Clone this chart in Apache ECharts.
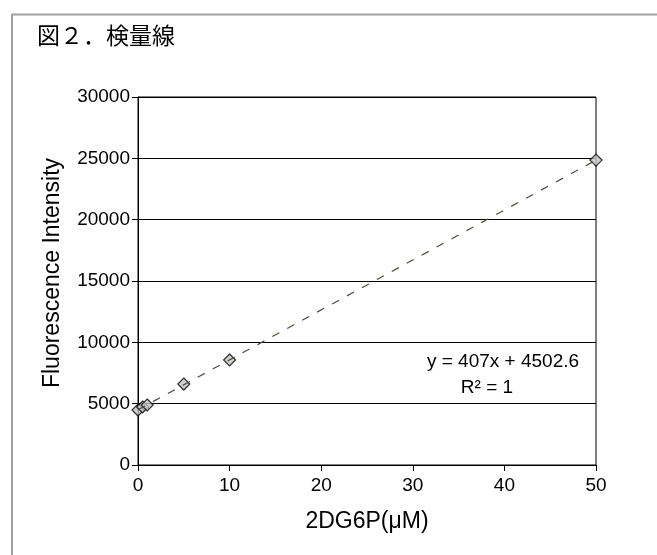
<!DOCTYPE html>
<html>
<head>
<meta charset="utf-8">
<script src="https://cdn.jsdelivr.net/npm/echarts@6/dist/echarts.min.js"></script>
<style>
html,body{margin:0;padding:0;background:#fff;}
#chart{width:657px;height:555px;}
</style>
</head>
<body>
<div id="chart"></div>
<script>
// Data
var concX = [0, 0.5, 1, 5, 10, 50];
var intensityY = [4480, 4730, 4890, 6600, 8560, 24860];
var trendX = [0, 50];
var trendY = [4502.6, 24852.6];
var xTicks = [0, 10, 20, 30, 40, 50];
var yTicks = [0, 5000, 10000, 15000, 20000, 25000, 30000];
var titleText = '図２．検量線';
var xName = '2DG6P(μM)';
var yName = 'Fluorescence Intensity';
var eqText = 'y = 407x + 4502.6';
var r2Text = 'R² = 1';

var pts = concX.map(function (x, i) { return [x, intensityY[i]]; });
var trend = trendX.map(function (x, i) { return [x, trendY[i]]; });

var chart = echarts.init(document.getElementById('chart'), null, {renderer: 'canvas'});
var font = '"Liberation Sans", Arial, sans-serif';
chart.setOption({
  animation: false,
  backgroundColor: '#fff',
  textStyle: {fontFamily: font},
  grid: {left: 138, right: 61, top: 97, bottom: 90, show: true, borderColor: '#000', borderWidth: 1},
  graphic: [
    {type: 'line', shape: {x1: 12, y1: 14.5, x2: 657, y2: 14.5}, style: {stroke: '#a0a0a0', lineWidth: 2}},
    {type: 'line', shape: {x1: 12, y1: 14, x2: 12, y2: 555}, style: {stroke: '#a0a0a0', lineWidth: 2}},
    {type: 'text', x: 37, y: 35, style: {text: titleText, font: '23px "Noto Sans CJK JP", sans-serif', fill: '#000', verticalAlign: 'middle'}},
    {type: 'text', x: 53, y: 273, rotation: Math.PI / 2,
     style: {text: yName, font: '23px ' + font, fill: '#000', align: 'center', verticalAlign: 'middle'}},
    {type: 'text', x: 503, y: 362, style: {text: eqText, font: '19px ' + font, fill: '#000', align: 'center', verticalAlign: 'middle'}},
    {type: 'text', x: 487, y: 388, style: {text: r2Text, font: '19px ' + font, fill: '#000', align: 'center', verticalAlign: 'middle'}}
  ],
  xAxis: {
    type: 'value', min: xTicks[0], max: xTicks[xTicks.length - 1], interval: xTicks[1] - xTicks[0],
    axisLine: {onZero: false, lineStyle: {color: '#000', width: 1}},
    axisTick: {show: true, inside: false, length: 6, lineStyle: {color: '#000'}},
    axisLabel: {color: '#000', fontSize: 19, fontFamily: font, margin: 11},
    splitLine: {show: false},
    name: xName, nameLocation: 'middle', nameGap: 45,
    nameTextStyle: {color: '#000', fontSize: 23, fontFamily: font}
  },
  yAxis: {
    type: 'value', min: yTicks[0], max: yTicks[yTicks.length - 1], interval: yTicks[1] - yTicks[0],
    axisLine: {show: true, lineStyle: {color: '#000', width: 1}},
    axisTick: {show: true, inside: false, length: 6, lineStyle: {color: '#000'}},
    axisLabel: {color: '#000', fontSize: 19, fontFamily: font, margin: 8, formatter: function (v) { return String(v); }},
    splitLine: {show: true, lineStyle: {color: '#000', width: 1}}
  },
  series: [
    {
      type: 'scatter', data: pts, symbol: 'diamond', symbolSize: 12,
      itemStyle: {color: '#c4c4c4', borderColor: '#000', borderWidth: 1.2}, z: 3
    },
    {
      type: 'line', data: trend, showSymbol: false, symbol: 'none',
      lineStyle: {color: '#4f4b36', width: 1.2, type: [8, 9]}, z: 4
    }
  ]
});
</script>
</body>
</html>
